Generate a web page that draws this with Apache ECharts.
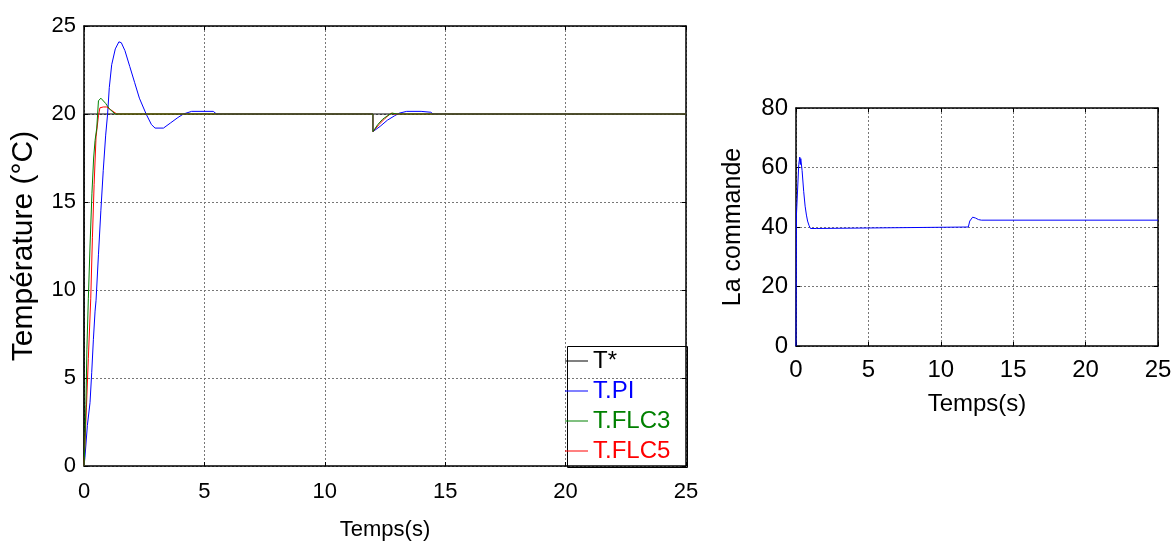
<!DOCTYPE html>
<html>
<head>
<meta charset="utf-8">
<script src="https://cdn.jsdelivr.net/npm/echarts@6/dist/echarts.min.js"></script>
<style>
  html, body { margin: 0; padding: 0; background: #fff; }
  #chart { width: 1173px; height: 541px; }
</style>
</head>
<body>
<div id="chart"></div>
<script>
// temps (s) ticks
var xTicks = [0, 5, 10, 15, 20, 25];
var legendNames = ['T*', 'T.PI', 'T.FLC3', 'T.FLC5'];

// consigne
var tRef = [[0, 0], [0, 20], [25, 20]];
// PI
var tPI = [[0, 0], [0.04, 0.5], [0.14, 2.3], [0.25, 3.6], [0.32, 5.3], [0.39, 7.2], [0.46, 8.8], [0.5, 9.4],
  [0.6, 12], [0.7, 14.5], [0.8, 16.8], [0.9, 18.8], [0.98, 20], [1.05, 21.5], [1.15, 22.8], [1.3, 23.7],
  [1.45, 24.1], [1.55, 24.05], [1.7, 23.6], [1.9, 22.7], [2.1, 21.8], [2.3, 20.9], [2.58, 20], [2.8, 19.4],
  [2.95, 19.2], [3.3, 19.2], [3.6, 19.5], [3.9, 19.8], [4.13, 20], [4.47, 20.15], [5.37, 20.15], [5.44, 20.1],
  [5.5, 20], [12, 20], [12, 19], [12.3, 19.3], [12.6, 19.65], [12.9, 19.9], [13.1, 20.05], [13.4, 20.15],
  [14.0, 20.15], [14.4, 20.1], [14.5, 20], [25, 20]];
// FLC 3 regles
var tFLC3 = [[0, 0], [0.03, 1], [0.08, 3.5], [0.12, 6.6], [0.18, 9.5], [0.25, 12.5], [0.33, 15.5], [0.4, 17.5],
  [0.46, 18.5], [0.53, 19.2], [0.6, 20.75], [0.7, 20.9], [0.78, 20.95], [0.9, 20.6], [1.05, 20.3], [1.29, 20],
  [12, 20], [12, 19], [12.2, 19.4], [12.4, 19.7], [12.6, 19.9], [12.8, 20.05], [13.0, 20], [25, 20]];
// FLC 5 regles
var tFLC5 = [[0, 0], [0.03, 1], [0.1, 3.3], [0.18, 6.1], [0.28, 9.5], [0.35, 13], [0.42, 16], [0.5, 18.7],
  [0.6, 19.9], [0.66, 20.35], [0.8, 20.4], [0.94, 20.4], [1.1, 20.25], [1.36, 20],
  [12, 20], [12, 19], [12.25, 19.4], [12.5, 19.75], [12.75, 20.05], [12.9, 20], [25, 20]];
// la commande
var uCmd = [[0, 0], [0.02, 0], [0.03, 44], [0.15, 44], [0.19, 61], [0.26, 63.5], [0.3, 61], [0.33, 63],
  [0.38, 62.5], [0.42, 59], [0.53, 52], [0.63, 47], [0.72, 44], [0.8, 42], [0.9, 40.5], [1.0, 39.5],
  [1.4, 39.5], [1.5, 40], [11.9, 40], [12.0, 42], [12.2, 43.3], [12.4, 43], [12.6, 42.5], [12.8, 42.3], [25, 42.3]];

var font = 'Liberation Sans, Arial, sans-serif';
var gridLine = { show: true, lineStyle: { color: '#777', type: [2, 2], width: 1 } };

function xAx(grid, pos, fs, lblMargin, name, nameGap, nameFs) {
  return {
    type: 'value', gridIndex: grid, position: pos, min: 0, max: 25, interval: 5,
    name: name, nameLocation: 'middle', nameGap: nameGap, nameMoveOverlap: false,
    nameTextStyle: { color: '#000', fontSize: nameFs, fontFamily: font },
    axisLine: { show: true, onZero: false, lineStyle: { color: '#000', width: 1.5 } },
    axisTick: { show: true, inside: true, length: 4, lineStyle: { color: '#000' } },
    axisLabel: { show: pos === 'bottom', margin: lblMargin, color: '#000', fontSize: fs, fontFamily: font },
    splitLine: pos === 'bottom' ? gridLine : { show: false }
  };
}
function yAx(grid, pos, max, interval, fs, lblMargin, name, nameGap, nameFs) {
  return {
    type: 'value', gridIndex: grid, position: pos, min: 0, max: max, interval: interval,
    name: name, nameLocation: 'middle', nameGap: nameGap, nameMoveOverlap: false,
    nameTextStyle: { color: '#000', fontSize: nameFs, fontFamily: font },
    axisLine: { show: true, onZero: false, lineStyle: { color: '#000', width: 1.5 } },
    axisTick: { show: true, inside: true, length: 4, lineStyle: { color: '#000' } },
    axisLabel: { show: pos === 'left', margin: lblMargin, color: '#000', fontSize: fs, fontFamily: font },
    splitLine: pos === 'left' ? gridLine : { show: false }
  };
}

var chart = echarts.init(document.getElementById('chart'));
var option = {
  animation: false,
  backgroundColor: '#fff',
  grid: [
    { left: 84, top: 26, width: 602, height: 440, outerBoundsMode: 'none', containLabel: false },
    { left: 796, top: 108, width: 362, height: 238, outerBoundsMode: 'none', containLabel: false }
  ],
  xAxis: [
    xAx(0, 'bottom', 22, 15, 'Temps(s)', 53, 22),
    xAx(0, 'top', 22, 8, '', 0, 22),
    xAx(1, 'bottom', 24, 12, 'Temps(s)', 46, 24),
    xAx(1, 'top', 24, 8, '', 0, 24)
  ],
  yAxis: [
    yAx(0, 'left', 25, 5, 22, 8, 'Température (°C)', 45, 30),
    yAx(0, 'right', 25, 5, 22, 8, '', 0, 22),
    yAx(1, 'left', 80, 20, 24, 8, 'La commande', 50, 25),
    yAx(1, 'right', 80, 20, 24, 8, '', 0, 24)
  ],
  legend: {
    orient: 'vertical', left: 565, top: 349, padding: 0, itemGap: 6,
    itemWidth: 23, itemHeight: 1, icon: 'rect',
    textStyle: { fontSize: 24, fontFamily: font },
    data: [
      { name: 'T*', textStyle: { color: '#000' } },
      { name: 'T.PI', textStyle: { color: '#0000ff' } },
      { name: 'T.FLC3', textStyle: { color: '#008000' } },
      { name: 'T.FLC5', textStyle: { color: '#ff0000' } }
    ]
  },
  graphic: [
    { type: 'rect', left: 565, top: 344, shape: { width: 120, height: 121 }, z: 3,
      style: { fill: 'none', stroke: '#000', lineWidth: 1 } }
  ],
  series: [
    { name: legendNames[0], type: 'line', xAxisIndex: 0, yAxisIndex: 0, data: tRef, symbol: 'none', z: 2,
      lineStyle: { color: '#000', width: 1 }, itemStyle: { color: '#000' } },
    { name: legendNames[1], type: 'line', xAxisIndex: 0, yAxisIndex: 0, data: tPI, symbol: 'none', z: 3,
      lineStyle: { color: '#0000ff', width: 1 }, itemStyle: { color: '#0000ff' } },
    { name: legendNames[3], type: 'line', xAxisIndex: 0, yAxisIndex: 0, data: tFLC5, symbol: 'none', z: 4,
      lineStyle: { color: '#ff0000', width: 1 }, itemStyle: { color: '#ff0000' } },
    { name: legendNames[2], type: 'line', xAxisIndex: 0, yAxisIndex: 0, data: tFLC3, symbol: 'none', z: 5,
      lineStyle: { color: '#008000', width: 1 }, itemStyle: { color: '#008000' } },
    { name: 'La commande', type: 'line', xAxisIndex: 2, yAxisIndex: 2, data: uCmd, symbol: 'none',
      lineStyle: { color: '#0000ff', width: 1 }, itemStyle: { color: '#0000ff' } }
  ]
};
chart.setOption(option);
</script>
</body>
</html>
